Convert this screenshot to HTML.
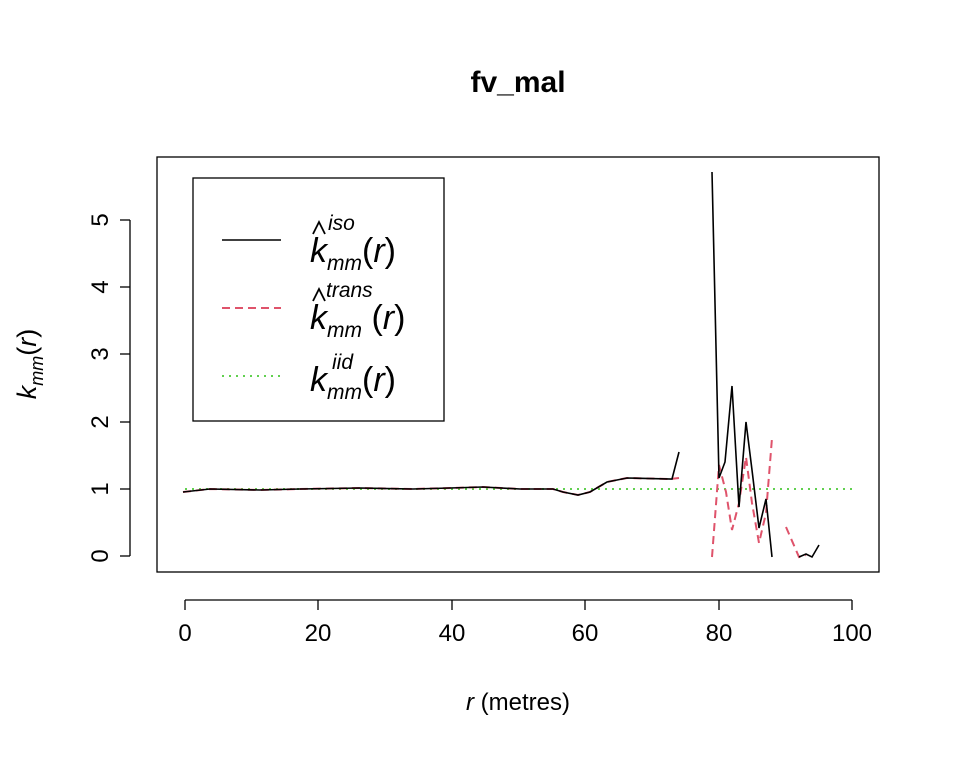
<!DOCTYPE html>
<html><head><meta charset="utf-8"><style>body{margin:0;background:#fff}svg{display:block}</style></head>
<body>
<svg width="960" height="768" viewBox="0 0 960 768" xmlns="http://www.w3.org/2000/svg" font-family="Liberation Sans, sans-serif">
<rect width="960" height="768" fill="#fff"/>
<text x="518" y="92" font-size="30" font-weight="bold" text-anchor="middle">fv_mal</text>
<rect x="157" y="157" width="722" height="415" fill="none" stroke="#000" stroke-width="1.3"/>
<g stroke="#000" stroke-width="1.3">
<line x1="185" y1="600" x2="852" y2="600"/>
<line x1="185" y1="600" x2="185" y2="610"/>
<line x1="318" y1="600" x2="318" y2="610"/>
<line x1="452" y1="600" x2="452" y2="610"/>
<line x1="585" y1="600" x2="585" y2="610"/>
<line x1="719" y1="600" x2="719" y2="610"/>
<line x1="852" y1="600" x2="852" y2="610"/>
</g>
<g font-size="24" text-anchor="middle">
<text x="185" y="641">0</text><text x="318" y="641">20</text><text x="452" y="641">40</text>
<text x="585" y="641">60</text><text x="719" y="641">80</text><text x="852" y="641">100</text>
</g>
<text x="518" y="710" font-size="24" text-anchor="middle"><tspan font-style="italic">r</tspan> (metres)</text>
<g stroke="#000" stroke-width="1.3">
<line x1="130" y1="220" x2="130" y2="556"/>
<line x1="120" y1="556" x2="130" y2="556"/>
<line x1="120" y1="489" x2="130" y2="489"/>
<line x1="120" y1="422" x2="130" y2="422"/>
<line x1="120" y1="354" x2="130" y2="354"/>
<line x1="120" y1="287" x2="130" y2="287"/>
<line x1="120" y1="220" x2="130" y2="220"/>
</g>
<g font-size="24" text-anchor="middle">
<text transform="translate(108,556) rotate(-90)">0</text>
<text transform="translate(108,489) rotate(-90)">1</text>
<text transform="translate(108,422) rotate(-90)">2</text>
<text transform="translate(108,354) rotate(-90)">3</text>
<text transform="translate(108,287) rotate(-90)">4</text>
<text transform="translate(108,220) rotate(-90)">5</text>
</g>
<text transform="translate(36,364) rotate(-90)" font-size="27" text-anchor="middle"><tspan font-style="italic">k</tspan><tspan font-size="18" font-style="italic" dy="7">mm</tspan><tspan dy="-7">(</tspan><tspan font-style="italic">r</tspan>)</text>
<line x1="185" y1="489" x2="852" y2="489" stroke="#61D04F" stroke-width="2" stroke-dasharray="2,5"/>
<polyline fill="none" stroke="#DF536B" stroke-width="2" stroke-dasharray="8,5" points="183,492 210,489 260,490 300,489 360,488 413,489 450,488 483,487 520,489 553,489 563,492 578,495 590,492 607,482 627,478 670,479 679,478"/>
<polyline fill="none" stroke="#DF536B" stroke-width="2" stroke-dasharray="8,5" points="712,557 719,465 726,492 732,530 739,503 746,457 752,503 759,543 766,513 772,438"/>
<polyline fill="none" stroke="#DF536B" stroke-width="2" stroke-dasharray="8,5" points="786,527 799,557 806,555"/>
<polyline fill="none" stroke="#000" stroke-width="1.6" points="183,492 210,489 260,490 300,489 360,488 413,489 450,488 483,487 520,489 553,489 563,492 578,495 590,492 607,482 627,478 672,479 679,452"/>
<polyline fill="none" stroke="#000" stroke-width="1.6" points="712,172 719,478 725,462 732,386 739,507 746,422 752,470 759,528 766,499 772,557"/>
<polyline fill="none" stroke="#000" stroke-width="1.6" points="799,557 806,554 812,557 819,545"/>
<rect x="193" y="178" width="251" height="243" fill="#fff" stroke="#000" stroke-width="1.3"/>
<line x1="222" y1="240" x2="281" y2="240" stroke="#000" stroke-width="1.6"/>
<line x1="222" y1="308" x2="281" y2="308" stroke="#DF536B" stroke-width="2" stroke-dasharray="8,5"/>
<line x1="222" y1="376" x2="281" y2="376" stroke="#61D04F" stroke-width="2" stroke-dasharray="2,5"/>
<polyline points="313,234 319,222 325,234" fill="none" stroke="#000" stroke-width="1.8"/>
<polyline points="313,301 319,289 325,301" fill="none" stroke="#000" stroke-width="1.8"/>
<g font-size="34" font-style="italic">
<text x="310" y="262">k<tspan font-size="21" dy="8">mm</tspan><tspan dy="-8" font-style="normal">(</tspan>r<tspan font-style="normal">)</tspan></text>
<text x="328" y="230" font-size="21">iso</text>
<text x="310" y="329">k<tspan font-size="21" dy="8">mm</tspan><tspan dy="-8" font-style="normal"> (</tspan>r<tspan font-style="normal">)</tspan></text>
<text x="326" y="297" font-size="21">trans</text>
<text x="310" y="391">k<tspan font-size="21" dy="8">mm</tspan><tspan dy="-8" font-style="normal">(</tspan>r<tspan font-style="normal">)</tspan></text>
<text x="332" y="369" font-size="21">iid</text>
</g>
</svg>
</body></html>
